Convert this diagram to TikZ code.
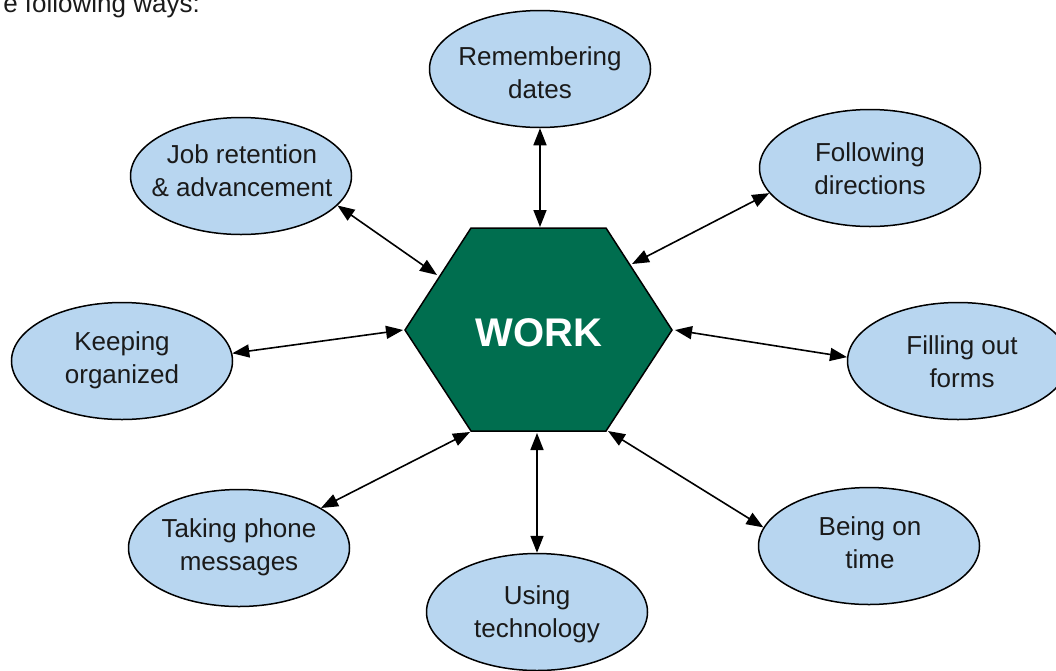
\documentclass[tikz,border=0pt]{standalone}
\usepackage{fontspec}
\setmainfont{Liberation Sans}
\usetikzlibrary{shapes.geometric,arrows.meta}
\definecolor{bubblefill}{HTML}{B8D6F0}
\definecolor{hexgreen}{HTML}{006E4F}
\definecolor{inktext}{HTML}{1A1A1A}
\begin{document}
\begin{tikzpicture}[x=1pt,y=-1pt,
  bubble/.style={ellipse,draw=black,line width=1.5pt,fill=bubblefill,
    minimum width=221pt,minimum height=117pt,inner sep=0pt},
  btext/.style={align=center,inner sep=0pt,text=inktext,
    font=\fontsize{26}{33}\selectfont},
  link/.style={line width=1.6pt,
    {Triangle[length=17pt,width=13pt]}-{Triangle[length=17pt,width=13pt]}}]
\useasboundingbox (0,0) rectangle (1056,670);
\clip (0,0) rectangle (1056,670);

% lead-in line of the surrounding text
\node[anchor=base east,inner sep=0pt,text=inktext,font=\fontsize{26}{33}\selectfont]
  (intro) at (200,12) {e following ways:};

% central hexagon
\coordinate (hTL) at (471,228);
\coordinate (hTR) at (606,228);
\coordinate (hR)  at (672,330);
\coordinate (hBR) at (606,431);
\coordinate (hBL) at (471,431);
\coordinate (hL)  at (405,330);
\draw[fill=hexgreen,line width=1.5pt,line join=miter]
  (hTL) -- (hTR) -- (hR) -- (hBR) -- (hBL) -- (hL) -- cycle;
\node[text=white,font=\fontsize{40}{40}\selectfont\bfseries] (work) at (539,333) {WORK};

% surrounding ellipses
\node[bubble] (rem)  at (540,69)  {};
\node[bubble] (job)  at (241,176) {};
\node[bubble] (fol)  at (870,168) {};
\node[bubble] (keep) at (122,361) {};
\node[bubble] (fill) at (958,361) {};
\node[bubble] (take) at (239,548) {};
\node[bubble] (use)  at (537,612) {};
\node[bubble] (time) at (869,546) {};

\node[btext] (rem-t)  at (540,73)  {Remembering\\dates};
\node[btext] (job-t)  at (242,171) {Job retention\\\& advancement};
\node[btext] (fol-t)  at (870,169) {Following\\directions};
\node[btext] (keep-t) at (122,360) {Keeping\\organized};
\node[btext] (fill-t) at (962,362) {Filling out\\forms};
\node[btext] (take-t) at (239,547) {Taking phone\\messages};
\node[btext] (use-t)  at (537,614) {Using\\technology};
\node[btext] (time-t) at (870,543) {Being on\\time};

% contact points on the hexagon
\coordinate (pRem)  at (540,227);
\coordinate (pJob)  at (437,275);
\coordinate (pFol)  at (632,264);
\coordinate (pKeep) at (403,330);
\coordinate (pFill) at (675,330);
\coordinate (pTake) at (470,432);
\coordinate (pUse)  at (537,433);
\coordinate (pTime) at (608,431);

% two-way connectors
\draw[link] (rem.-90)    -- (pRem);
\draw[link] (job.-17)    -- (pJob);
\draw[link] (fol.-166)   -- (pFol);
\draw[link] (keep.4)     -- (pKeep);
\draw[link] (fill.178)   -- (pFill);
\draw[link] (take.26)    -- (pTake);
\draw[link] (use.90)     -- (pUse);
\draw[link] (time.170)   -- (pTime);
\end{tikzpicture}
\end{document}
